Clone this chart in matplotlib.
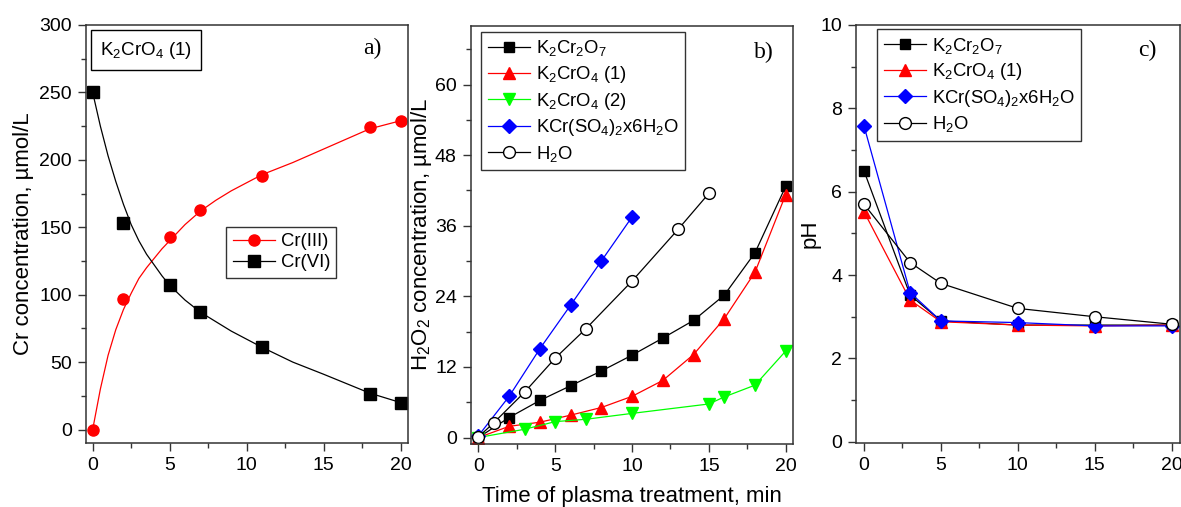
import matplotlib
matplotlib.use("Agg")
import matplotlib.pyplot as plt
from matplotlib.ticker import MultipleLocator
from matplotlib.lines import Line2D

plt.rcParams['font.family'] = ['Liberation Sans', 'DejaVu Sans']
plt.rcParams['mathtext.default'] = 'regular'

# ---- panel a) Cr species, K2CrO4 (1)
t_cr = [0, 2, 5, 7, 11, 18, 20]
cr3 = [0, 97, 143, 163, 188, 224, 229]
cr6 = [250, 153, 107, 87, 61, 26, 20]
# fitted curves
fit_t = [0, 0.5, 1, 1.5, 2, 2.5, 3, 3.5, 4, 4.5, 5, 6, 7, 8, 9, 10, 11, 13, 15, 18, 20]
fit_cr3 = [0, 30, 55, 74, 89, 101, 112, 120, 127, 134, 140, 152, 162, 170, 177, 183, 189, 198, 208, 223, 229]
fit_cr6 = [250, 225, 203, 184, 167, 152, 140, 130, 122, 114, 107, 96, 87, 80, 73, 67, 61, 50, 41, 27, 20]

# ---- panel b) H2O2
t_dich = [0, 2, 4, 6, 8, 10, 12, 14, 16, 18, 20]
h2o2_dich = [0, 3.4, 6.3, 8.8, 11.3, 14.0, 16.9, 19.9, 24.2, 31.4, 42.7]
t_chr1 = [0, 2, 4, 6, 8, 10, 12, 14, 16, 18, 20]
h2o2_chr1 = [0, 1.9, 2.6, 3.8, 5.1, 7.0, 9.7, 14.1, 20.2, 28.1, 41.3]
t_chr2 = [0, 3, 5, 7, 10, 15, 16, 18, 20]
h2o2_chr2 = [0, 1.4, 2.7, 3.1, 4.1, 5.7, 6.9, 8.9, 14.7]
t_alum = [0, 2, 4, 6, 8, 10]
h2o2_alum = [0.3, 7.0, 15.1, 22.5, 30.0, 37.5]
t_water = [0, 1, 3, 5, 7, 10, 13, 15]
h2o2_water = [0.1, 2.5, 7.7, 13.5, 18.5, 26.6, 35.4, 41.5]

# ---- panel c) pH
t_ph = [0, 3, 5, 10, 15, 20]
ph_dich = [6.5, 3.52, 2.9, 2.8, 2.8, 2.8]
ph_chr1 = [5.52, 3.4, 2.88, 2.8, 2.78, 2.8]
ph_alum = [7.58, 3.58, 2.9, 2.86, 2.78, 2.78]
ph_water = [5.7, 4.3, 3.8, 3.2, 3.0, 2.82]

lab_dich = r'K$_2$Cr$_2$O$_7$'
lab_chr1 = r'K$_2$CrO$_4$ (1)'
lab_chr2 = r'K$_2$CrO$_4$ (2)'
lab_alum = r'KCr(SO$_4$)$_2$x6H$_2$O'
lab_water = r'H$_2$O'

fig = plt.figure(figsize=(11.81, 5.07), dpi=100)
axa = fig.add_axes([0.0726, 0.1262, 0.2731, 0.8245])
axb = fig.add_axes([0.3986, 0.1243, 0.2732, 0.8250])
axc = fig.add_axes([0.7248, 0.1262, 0.2743, 0.8245])

tick_fs = 14
for ax in (axa, axb, axc):
    ax.tick_params(which='both', direction='out', top=False, right=False,
                   labelsize=tick_fs, color='#333333')
    ax.tick_params(which='major', length=6, width=1, pad=4)
    ax.tick_params(which='minor', length=3.5, width=1)
    for s in ax.spines.values():
        s.set_linewidth(1.1)
        s.set_color('#333333')
    ax.xaxis.set_major_locator(MultipleLocator(5))
    ax.xaxis.set_minor_locator(MultipleLocator(2.5))

lw = 0.9
leg_kw = dict(fontsize=13.3, frameon=True, fancybox=False, edgecolor='black',
              borderaxespad=0, borderpad=0.35, handlelength=2.3,
              labelspacing=0.3, handletextpad=0.3)

# a)
axa.plot(fit_t, fit_cr3, '-', color='red', lw=lw)
axa.plot(fit_t, fit_cr6, '-', color='black', lw=lw)
axa.plot(t_cr, cr3, 'o', color='red', ms=8)
axa.plot(t_cr, cr6, 's', color='black', ms=8)
ha = [Line2D([], [], color='red', lw=lw, marker='o', ms=8),
      Line2D([], [], color='black', lw=lw, marker='s', ms=8)]
leg = axa.legend(ha, ['Cr(III)', 'Cr(VI)'], loc='upper left',
                 bbox_to_anchor=(0.435, 0.517), **dict(leg_kw, labelspacing=0.2))
leg.get_frame().set_linewidth(1.0)
axa.set_xlim(-0.45, 20.5)
axa.set_ylim(-10, 300)
axa.yaxis.set_major_locator(MultipleLocator(50))
axa.yaxis.set_minor_locator(MultipleLocator(25))
axa.set_ylabel('Cr concentration, µmol/L', fontsize=16, labelpad=4)
axa.text(0.045, 0.94, lab_chr1, transform=axa.transAxes, fontsize=13.5, va='center',
         bbox=dict(boxstyle='square,pad=0.5', fc='white', ec='black', lw=1.0))
axa.text(0.89, 0.945, 'a)', transform=axa.transAxes, fontsize=17,
         family='Liberation Serif', ha='center', va='center')

# b)
axb.plot(t_dich, h2o2_dich, '-s', color='black', lw=lw, ms=7.5, label=lab_dich)
axb.plot(t_chr1, h2o2_chr1, '-^', color='red', lw=lw, ms=8.5, label=lab_chr1)
axb.plot(t_chr2, h2o2_chr2, '-v', color='#00ff00', lw=lw, ms=8.5, label=lab_chr2)
axb.plot(t_alum, h2o2_alum, '-D', color='blue', lw=lw, ms=7.5, label=lab_alum)
axb.plot(t_water, h2o2_water, '-o', color='black', mfc='white', lw=lw, ms=8.5, label=lab_water)
leg = axb.legend(loc='upper left', bbox_to_anchor=(0.032, 0.985), **leg_kw)
leg.get_frame().set_linewidth(1.0)
axb.set_xlim(-0.5, 20.5)
axb.set_ylim(-1.1, 70)
axb.yaxis.set_major_locator(MultipleLocator(12))
axb.yaxis.set_minor_locator(MultipleLocator(6))
axb.set_ylabel(r'H$_2$O$_2$ concentration, µmol/L', fontsize=16, labelpad=1)
axb.set_xlabel('Time of plasma treatment, min', fontsize=16, labelpad=8)
axb.text(0.909, 0.937, 'b)', transform=axb.transAxes, fontsize=17,
         family='Liberation Serif', ha='center', va='center')

# c)
axc.plot(t_ph, ph_dich, '-s', color='black', lw=lw, ms=7.5, label=lab_dich)
axc.plot(t_ph, ph_chr1, '-^', color='red', lw=lw, ms=8.5, label=lab_chr1)
axc.plot(t_ph, ph_alum, '-D', color='blue', lw=lw, ms=7.5, label=lab_alum)
axc.plot(t_ph, ph_water, '-o', color='black', mfc='white', lw=lw, ms=8.5, label=lab_water)
leg = axc.legend(loc='upper left', bbox_to_anchor=(0.065, 0.99), **leg_kw)
leg.get_frame().set_linewidth(1.0)
axc.set_xlim(-0.52, 20.54)
axc.set_ylim(-0.03, 10)
axc.yaxis.set_major_locator(MultipleLocator(2))
axc.yaxis.set_minor_locator(MultipleLocator(1))
axc.set_ylabel('pH', fontsize=16, labelpad=0)
axc.text(0.9, 0.94, 'c)', transform=axc.transAxes, fontsize=17,
         family='Liberation Serif', ha='center', va='center')

fig.savefig('out.png', dpi=100)
